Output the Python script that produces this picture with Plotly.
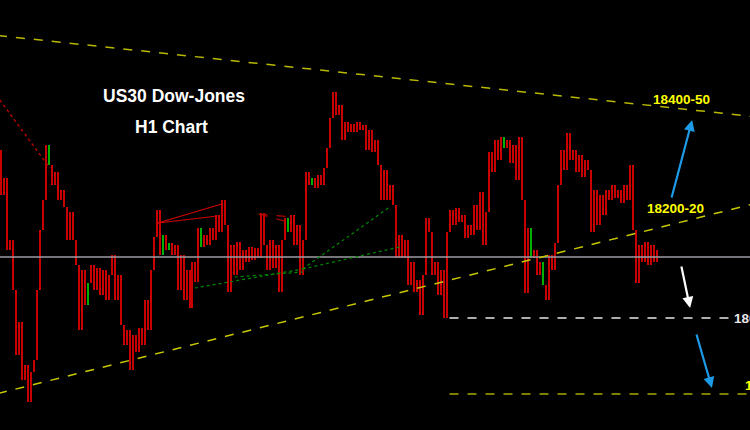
import plotly.graph_objects as go

# ---------------- data ----------------
first_open = 18324
closes = [
    18234, 18268, 18124, 18144, 18044, 17914, 17980, 17864, 17894, 17820,
    17880, 17904, 18044, 18164, 18224, 18334, 18294, 18254, 18280, 18224,
    18244, 18210, 18144, 18200, 18144, 18094, 17964, 18084, 18014, 18058,
    18094, 18044, 18088, 18034, 18084, 18024, 18074, 18114, 18024, 18074,
    17974, 17934, 17964, 17884, 17954, 17920, 17968, 17934, 18024, 17964,
    18084, 18150, 18204, 18114, 18154, 18124, 18138, 18114, 18134, 18044,
    18114, 18024, 18084, 18008, 18100, 18060, 18168, 18130, 18154, 18134,
    18168, 18144, 18194, 18160, 18224, 18174, 18040, 18134, 18074, 18140,
    18084, 18124, 18100, 18130, 18104, 18128, 18108, 18198, 18134, 18084,
    18144, 18088, 18134, 18040, 18144, 18188, 18160, 18194, 18134, 18174,
    18074, 18144, 18280, 18254, 18268, 18248, 18274, 18254, 18288, 18328,
    18388, 18440, 18394, 18414, 18344, 18380, 18360, 18376, 18360, 18380,
    18364, 18374, 18324, 18364, 18320, 18344, 18294, 18224, 18284, 18224,
    18254, 18214, 18108, 18154, 18108, 18144, 18054, 18100, 18040, 18064,
    17994, 18074, 18188, 18160, 18074, 18100, 18034, 18084, 17988, 18160,
    18204, 18174, 18208, 18180, 18194, 18148, 18174, 18154, 18214, 18164,
    18240, 18134, 18200, 18320, 18280, 18344, 18304, 18350, 18328, 18344,
    18298, 18334, 18264, 18350, 18224, 18038, 18168, 18108, 18124, 18074,
    18100, 18054, 18024, 18114, 18084, 18138, 18254, 18324, 18284, 18358,
    18304, 18324, 18280, 18314, 18270, 18304, 18284, 18160, 18244, 18174,
    18234, 18194, 18244, 18224, 18254, 18228, 18244, 18218, 18254, 18224,
    18294, 18164, 18058, 18134, 18100, 18140, 18094, 18134, 18100, 18124,
]
green_bars = [16, 29, 54, 56, 67, 96, 104, 168, 177, 181]

current_price = 18110
level_18000 = 17988
level_low = 17836
label_18400 = "18400-50"
label_18200 = "18200-20"
label_18000 = "18000"
label_low = "17850"
title_1 = "US30 Dow-Jones"
title_2 = "H1 Chart"

# trend lines: (x0, y0, x1, y1) in bar index / price
upper_trend = (-1, 18553, 251, 18391)
lower_trend = (-1, 17837, 251, 18216)

# ---------------- build ----------------
n = len(closes)
idx = list(range(n))
opens = [first_open] + closes[:-1]
highs = [max(o, c) for o, c in zip(opens, closes)]
lows = [min(o, c) for o, c in zip(opens, closes)]

red_i = [i for i in idx if i not in green_bars]
RED = "#c80000"
GREEN = "#00b000"

fig = go.Figure()
def bars(sel, col):
    return go.Bar(
        x=[idx[i] for i in sel], base=[lows[i] for i in sel],
        y=[highs[i] - lows[i] for i in sel], width=0.5,
        marker=dict(color=col, line=dict(width=0)),
        showlegend=False, hoverinfo="skip")

fig.add_trace(bars(red_i, RED))
fig.add_trace(bars(green_bars, GREEN))

shapes = []
def line(x0, y0, x1, y1, color, width=1, dash="solid"):
    shapes.append(dict(type="line", xref="x", yref="y", x0=x0, y0=y0, x1=x1, y1=y1,
                       line=dict(color=color, width=width, dash=dash), layer="above"))

# current price line
line(-1, current_price, 251, current_price, "#9c9ca4", 1.5)
# trend lines
line(*upper_trend, "#b8b800", 1.5, "dash")
line(*lower_trend, "#c8c800", 1.5, "dash")
# target levels
line(149.7, level_18000, 243, level_18000, "#e8e8e8", 1.5, "dash")
line(149.7, level_low, 251, level_low, "#a8a800", 1.5, "dash")
# red studies
line(-0.4, 18424, 16.3, 18288, "#b00000", 1.5, "dot")
line(52.3, 18178, 73.7, 18216, "#d00000", 1.2)
line(52.3, 18178, 72.3, 18192, "#d00000", 1.2)
line(86, 18196, 97.3, 18190, "#b00000", 1.2, "dash")
line(86, 18196, 97, 18178, "#b00000", 1.2, "dash")
# green studies
line(64.7, 18048, 100.7, 18086, "#008800", 1.2, "dot")
line(78, 18070, 100.7, 18080, "#008800", 1.2, "dot")
line(100.7, 18086, 129.7, 18210, "#008800", 1.2, "dot")
line(100.7, 18086, 133, 18130, "#008800", 1.2, "dot")

BOLD = "Liberation Sans, Arial, sans-serif"
ann = []
def txt(x, y, s, color, size, xanchor="center", xref="x", yref="y"):
    ann.append(dict(x=x, y=y, xref=xref, yref=yref, text="<b>%s</b>" % s, showarrow=False,
                    font=dict(family=BOLD, size=size, color=color), xanchor=xanchor, yanchor="middle"))

txt(0.232, 0.776, title_1, "white", 17.5, xref="paper", yref="paper")
txt(0.229, 0.705, title_2, "white", 17.5, xref="paper", yref="paper")
txt(227.3, 18426, label_18400, "#ffff00", 13.5)
txt(225, 18208, label_18200, "#ffff00", 13.5)
txt(244, level_18000, label_18000, "#e8e8e8", 13.5, xanchor="left")
txt(247.8, 17854, label_low, "#ffff00", 13.5, xanchor="left")

def arrow(x0, y0, x1, y1, color):
    ann.append(dict(x=x1, y=y1, ax=x0, ay=y0, xref="x", yref="y", axref="x", ayref="y",
                    showarrow=True, arrowhead=2, arrowsize=1, arrowwidth=2.2, arrowcolor=color, text=""))

arrow(223.7, 18226, 230.7, 18384, "#1e9be6")
arrow(227, 18094, 230, 18008, "#ffffff")
arrow(232, 17958, 237.3, 17848, "#1e9be6")

fig.update_layout(
    width=750, height=430, margin=dict(l=0, r=0, t=0, b=0),
    paper_bgcolor="black", plot_bgcolor="black", bargap=0,
    xaxis=dict(range=[-1/3, 749/3 + 1/3], visible=False, fixedrange=True),
    yaxis=dict(range=[17764, 18624], visible=False, fixedrange=True),
    shapes=shapes, annotations=ann, showlegend=False,
)
fig.write_html("out.html", config={"displayModeBar": False},
               post_script="document.body.style.margin='0';document.body.style.background='black';")
